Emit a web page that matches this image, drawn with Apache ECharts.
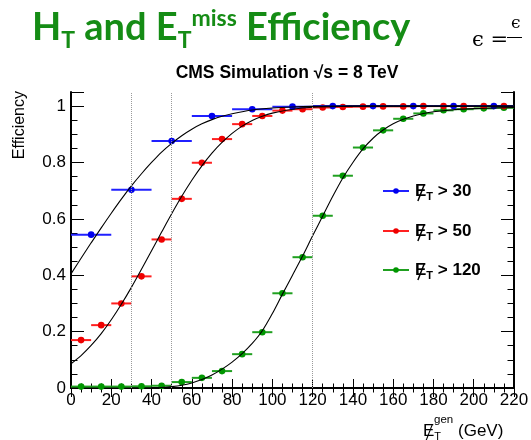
<!DOCTYPE html>
<html><head><meta charset="utf-8">
<script src="https://cdn.jsdelivr.net/npm/echarts@6/dist/echarts.min.js"></script>
<style>html,body{margin:0;padding:0;background:#fff}#c{width:531px;height:440px}</style>
</head><body><div id="c"></div>
<script>
// ---- data ----
const xTickValues = [0,20,40,60,80,100,120,140,160,180,200,220];
const yTickLabels = ['0','0.2','0.4','0.6','0.8','1'];
const cutLines = [30, 50, 120];
const legendCuts = ['30','50','120'];

const blueX = [10,30,50,70,90,110,130,150,170,190,210];
const blueY = [0.544,0.703,0.876,0.965,0.989,0.998,1.0,1.0,1.0,1.0,1.0];
const blueHalfBin = 10;

const redX = [5,15,25,35,45,55,65,75,85,95,105,115,125,135,145,155,165,175,185,195,205,215];
const redY = [0.170,0.223,0.300,0.396,0.527,0.671,0.799,0.883,0.936,0.965,0.984,0.989,0.995,0.997,0.998,0.999,0.999,1.0,1.0,1.0,1.0,1.0];
const redHalfBin = 5;

const greenX = [5,15,25,35,45,55,65,75,85,95,105,115,125,135,145,155,165,175,185,195,205,215];
const greenY = [0.005,0.005,0.005,0.006,0.008,0.021,0.036,0.060,0.120,0.198,0.336,0.464,0.611,0.753,0.853,0.914,0.955,0.974,0.985,0.989,0.992,0.994];
const greenHalfBin = 5;

// fit curves
const blueFitX = [0,5,10,15,20,25,30,35,40,45,50,55,60,65,70,75,80,90,100,110,120,140,220];
const blueFitY = [0.405,0.46,0.515,0.568,0.62,0.67,0.717,0.76,0.80,0.837,0.868,0.895,0.918,0.937,0.952,0.964,0.973,0.986,0.993,0.997,0.999,1.0,1.0];
const redFitX = [0,5,10,15,20,25,30,35,40,45,50,55,60,65,70,75,80,85,90,95,100,110,120,135,150,220];
const redFitY = [0.086,0.115,0.151,0.193,0.242,0.297,0.357,0.421,0.487,0.553,0.618,0.68,0.737,0.788,0.833,0.871,0.903,0.929,0.949,0.964,0.975,0.989,0.996,0.999,1.0,1.0];
const greenFitX = [40,45,50,55,60,65,70,75,80,85,90,95,100,105,110,115,120,125,130,135,140,145,150,155,160,165,170,175,180,190,200,210,220];
const greenFitY = [0.0,0.002,0.005,0.01,0.018,0.03,0.046,0.067,0.092,0.122,0.158,0.203,0.264,0.333,0.40,0.468,0.54,0.61,0.68,0.745,0.80,0.848,0.886,0.915,0.937,0.953,0.965,0.974,0.98,0.987,0.991,0.993,0.995];

const colors = {blue:'#0000ee', red:'#ee0000', green:'#009600'};
const barColors = {blue:'#2020ff', red:'#ff2020', green:'#20a020'};

// ---- helpers ----
const zip = (xs, ys) => xs.map((x, i) => [x, ys[i]]);
function errSeries(name, xs, ys, hw, key) {
  return {
    name, type: 'custom', xAxisIndex: 0, yAxisIndex: 0, z: 3,
    data: zip(xs, ys),
    itemStyle: {color: colors[key]},
    renderItem: function (params, api) {
      const x = api.value(0), y = api.value(1);
      const p = api.coord([x, y]);
      const l = api.coord([x - hw, y]);
      const r = api.coord([x + hw, y]);
      return {type: 'group', children: [
        {type: 'line', shape: {x1: l[0], y1: l[1], x2: r[0], y2: r[1]}, style: {stroke: barColors[key], lineWidth: 2}},
        {type: 'circle', shape: {cx: p[0], cy: p[1], r: 3.3}, style: {fill: colors[key]}}
      ]};
    }
  };
}
function fitSeries(name, xs, ys, extra) {
  return Object.assign({
    name, type: 'line', xAxisIndex: 0, yAxisIndex: 0, z: 4,
    data: zip(xs, ys), smooth: 0.3, symbol: 'none', silent: true,
    lineStyle: {color: '#000', width: 1.1}
  }, extra || {});
}

// text measuring for rich text rows
const mctx = document.createElement('canvas').getContext('2d');
function measure(t, font) { mctx.font = font; return mctx.measureText(t).width; }
function row(parts, x0, family, weight, color) {
  let x = x0; const out = [];
  parts.forEach(p => {
    const font = `${weight} ${p.size}px ${family}`;
    out.push({type: 'text', x: x, y: p.base - 0.33 * p.size, silent: true,
      style: {text: p.t, fontSize: p.size, fontFamily: family, fontWeight: weight, fill: p.color || color,
        align: 'left', verticalAlign: 'middle'}});
    if (p.slash) {
      const s = p.size;
      out.push({type: 'line', silent: true,
        shape: {x1: x + 0.17 * s, y1: p.base + 0.24 * s, x2: x + 0.55 * s, y2: p.base - 0.74 * s},
        style: {stroke: color, lineWidth: weight === 'bold' ? 1.5 : 1.1}});
    }
    x += measure(p.t, font) + (p.after || 0);
  });
  return out;
}

const titleFamily = 'Lato';
const titleParts = [
  {t: 'H', size: 38, base: 40},
  {t: 'T', size: 23, base: 48},
  {t: ' and E', size: 38, base: 40},
  {t: 'T', size: 23, base: 48},
  {t: 'miss', size: 23, base: 26},
  {t: ' Efficiency', size: 38, base: 40}
];

const graphics = [].concat(
  row(titleParts, 32, titleFamily, 'bold', '#158c15'),
  [
    {type: 'text', x: 472, y: 41, silent: true, style: {text: '\u03F5 =', fontSize: 21, fontFamily: 'DejaVu Serif', fill: '#000', verticalAlign: 'middle'}},
    {type: 'line', silent: true, shape: {x1: 507, y1: 37.5, x2: 522, y2: 37.5}, style: {stroke: '#000', lineWidth: 1}},
    {type: 'text', x: 511, y: 24, silent: true, style: {text: '\u03F5', fontSize: 17, fontFamily: 'DejaVu Serif', fill: '#000', verticalAlign: 'middle'}},
    {type: 'text', x: 287, y: 73, silent: true, style: {text: 'CMS Simulation \u221As = 8 TeV', fontSize: 17.5, fontWeight: 'bold', fontFamily: 'Liberation Sans', fill: '#000', align: 'center', verticalAlign: 'middle'}},
    {type: 'text', x: 20, y: 91, rotation: Math.PI / 2, silent: true, style: {text: 'Efficiency', fontSize: 16, fontFamily: 'Liberation Sans', fill: '#000', align: 'right', verticalAlign: 'middle'}}
  ],
  row([
    {t: 'E', size: 17, base: 437, slash: true},
    {t: 'T', size: 11, base: 441}
  ], 423, 'Liberation Sans', 'normal', '#000'),
  row([{t: 'gen', size: 11.5, base: 424}], 434, 'Liberation Sans', 'normal', '#000'),
  row([{t: '(GeV)', size: 17, base: 437}], 458, 'Liberation Sans', 'normal', '#000')
);

// legend drawn as graphic rows
const legendKeys = ['blue', 'red', 'green'];
const legendY = [191, 231, 270];
legendKeys.forEach((k, i) => {
  const y = legendY[i];
  graphics.push({type: 'line', silent: true, shape: {x1: 383, y1: y, x2: 409, y2: y}, style: {stroke: barColors[k], lineWidth: 2}});
  graphics.push({type: 'circle', silent: true, shape: {cx: 396, cy: y, r: 2.8}, style: {fill: colors[k]}});
  graphics.push.apply(graphics, row([
    {t: 'E', size: 17, base: y + 6, slash: true},
    {t: 'T', size: 11, base: y + 10},
    {t: ' > ' + legendCuts[i], size: 17, base: y + 6}
  ], 415, 'Liberation Sans', 'bold', '#000'));
});

const axisLine = {show: true, lineStyle: {color: '#000', width: 2}};
const chart = echarts.init(document.getElementById('c'), null, {renderer: 'canvas'});
chart.setOption({
  animation: false,
  backgroundColor: '#fff',
  grid: {left: 71, right: 17, top: 92, bottom: 52, containLabel: false, outerBoundsMode: 'none'},
  xAxis: [
    {type: 'value', position: 'bottom', min: 0, max: 220, interval: 20,
      axisLine, splitLine: {show: false},
      axisTick: {inside: true, length: 9, lineStyle: {color: '#000', width: 1}},
      minorTick: {show: true, splitNumber: 4, length: 4.5, lineStyle: {color: '#000', width: 1}},
      axisLabel: {fontSize: 17, color: '#000', fontFamily: 'Liberation Sans', margin: 4,
        formatter: v => xTickValues.includes(v) ? String(v) : ''}},
    {type: 'value', position: 'top', min: 0, max: 220, interval: 20,
      axisLine, splitLine: {show: false}, axisLabel: {show: false},
      axisTick: {inside: true, length: 9, lineStyle: {color: '#000', width: 1}},
      minorTick: {show: true, splitNumber: 4, length: 4.5, lineStyle: {color: '#000', width: 1}}}
  ],
  yAxis: [
    {type: 'value', position: 'left', min: 0, max: 1.05, interval: 0.2,
      axisLine, splitLine: {show: false},
      axisTick: {inside: true, length: 13, lineStyle: {color: '#000', width: 1}},
      axisLabel: {fontSize: 17, color: '#000', fontFamily: 'Liberation Sans', margin: 5,
        formatter: v => { const i = Math.round(v / 0.2); return (Math.abs(v - i * 0.2) < 1e-6 && i < yTickLabels.length) ? yTickLabels[i] : ''; }}},
    {type: 'value', position: 'left', min: 0, max: 1.05, interval: 0.05,
      axisLine: {show: false}, splitLine: {show: false}, axisLabel: {show: false},
      axisTick: {inside: true, length: 6.5, lineStyle: {color: '#000', width: 1}}},
    {type: 'value', position: 'right', min: 0, max: 1.05, interval: 0.2,
      axisLine, splitLine: {show: false}, axisLabel: {show: false},
      axisTick: {inside: true, length: 13, lineStyle: {color: '#000', width: 1}}},
    {type: 'value', position: 'right', min: 0, max: 1.05, interval: 0.05,
      axisLine: {show: false}, splitLine: {show: false}, axisLabel: {show: false},
      axisTick: {inside: true, length: 6.5, lineStyle: {color: '#000', width: 1}}}
  ],
  series: [
    errSeries('MET > 120', greenX, greenY, greenHalfBin, 'green'),
    errSeries('MET > 50', redX, redY, redHalfBin, 'red'),
    errSeries('MET > 30', blueX, blueY, blueHalfBin, 'blue'),
    fitSeries('fit 30', blueFitX, blueFitY, {
      markLine: {silent: true, symbol: 'none', label: {show: false},
        lineStyle: {type: 'dotted', color: '#9a9a9a', width: 1},
        data: cutLines.map(v => ({xAxis: v}))}
    }),
    fitSeries('fit 50', redFitX, redFitY),
    fitSeries('fit 120', greenFitX, greenFitY)
  ],
  graphic: graphics
});
</script>
</body></html>
